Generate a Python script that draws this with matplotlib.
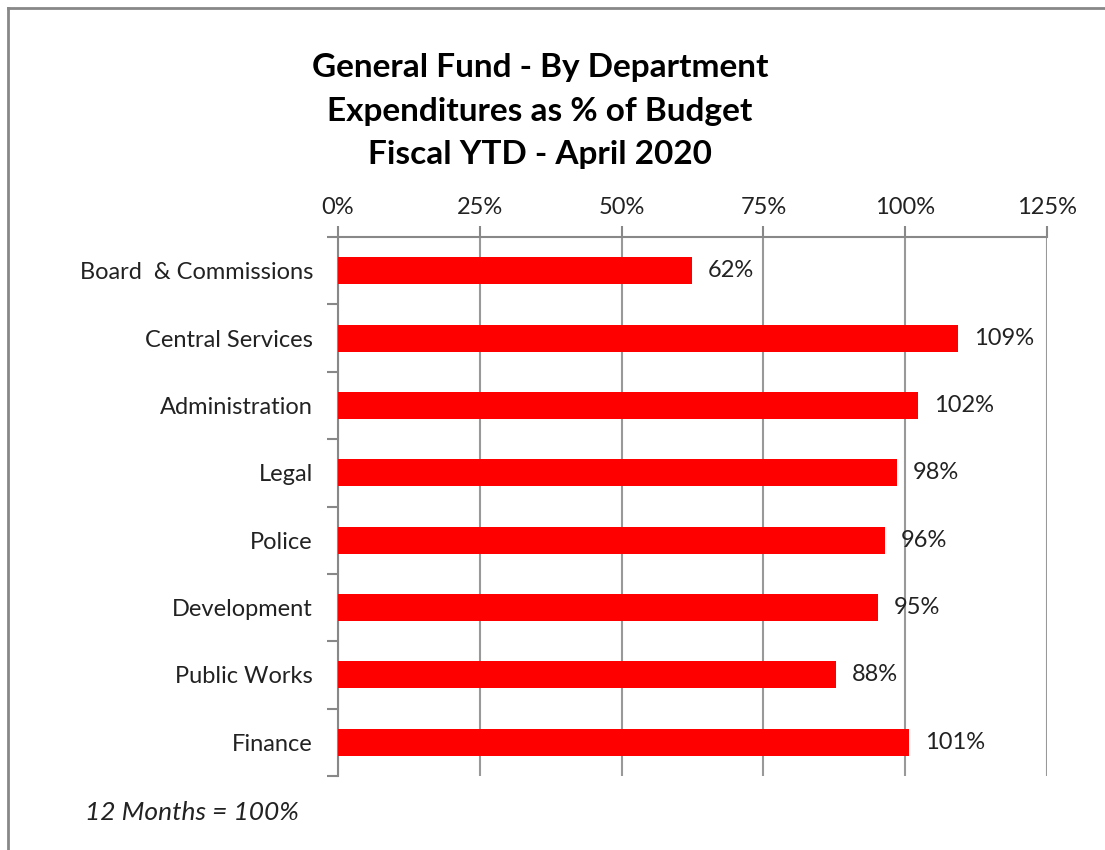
import matplotlib.pyplot as plt
from matplotlib.lines import Line2D
import numpy as np

departments = ["Board  & Commissions", "Central Services", "Administration", "Legal",
               "Police", "Development", "Public Works", "Finance"]
pct_of_budget = [62.4, 109.3, 102.3, 98.6, 96.4, 95.2, 87.8, 100.7]
value_labels = ["62%", "109%", "102%", "98%", "96%", "95%", "88%", "101%"]
x_ticks = [0, 25, 50, 75, 100, 125]

plt.rcParams['font.family'] = ['Lato', 'DejaVu Sans']

fig = plt.figure(figsize=(11.05, 8.5), dpi=100)
ax = fig.add_axes([338 / 1105, 1 - 776 / 850, (1047 - 338) / 1105, (776 - 237) / 850])

n = len(departments)
ypos = np.arange(n)
ax.barh(ypos, pct_of_budget, height=0.4, color="#ff0000", zorder=3)
for y, v, lab in zip(ypos, pct_of_budget, value_labels):
    ax.text(v + 2.8, y, lab, va="center", ha="left", fontsize=17, color="#222222")

ax.set_xlim(0, 125)
ax.set_ylim(n - 0.5, -0.5)
ax.xaxis.tick_top()
ax.set_xticks(x_ticks)
ax.set_xticklabels([f"{t}%" for t in x_ticks], fontsize=17, color="#222222")
ax.tick_params(axis="x", direction="out", length=8, width=1.5, color="#888888", pad=6)
ax.grid(axis="x", color="#999999", linewidth=1.5, zorder=0)

ax.set_yticks(np.arange(-0.5, n, 1))
ax.set_yticklabels([])
ax.set_yticks(ypos, minor=True)
ax.set_yticklabels(departments, minor=True, fontsize=17, color="#222222")
ax.tick_params(axis="y", which="major", direction="out", length=8, width=1.5, color="#888888")
ax.tick_params(axis="y", which="minor", length=0, pad=18)

for s in ["right", "bottom"]:
    ax.spines[s].set_visible(False)
for s in ["top", "left"]:
    ax.spines[s].set_color("#888888")
    ax.spines[s].set_linewidth(1.5)

fig.text(540 / 1105, 1 - 111 / 850,
         "General Fund - By Department\nExpenditures as % of Budget\nFiscal YTD - April 2020",
         ha="center", va="center", fontsize=24, fontweight="bold", linespacing=1.6)
fig.text(85 / 1105, 1 - 813 / 850, "12 Months = 100%", ha="left", va="center",
         fontsize=19, style="italic", color="#222222")

fig.add_artist(Line2D([8 / 1105, 8 / 1105], [0, 1 - 8 / 850], color="#888888", linewidth=2))
fig.add_artist(Line2D([8 / 1105, 1], [1 - 8 / 850, 1 - 8 / 850], color="#888888", linewidth=2))

fig.savefig("out.png", dpi=100, facecolor="white")
